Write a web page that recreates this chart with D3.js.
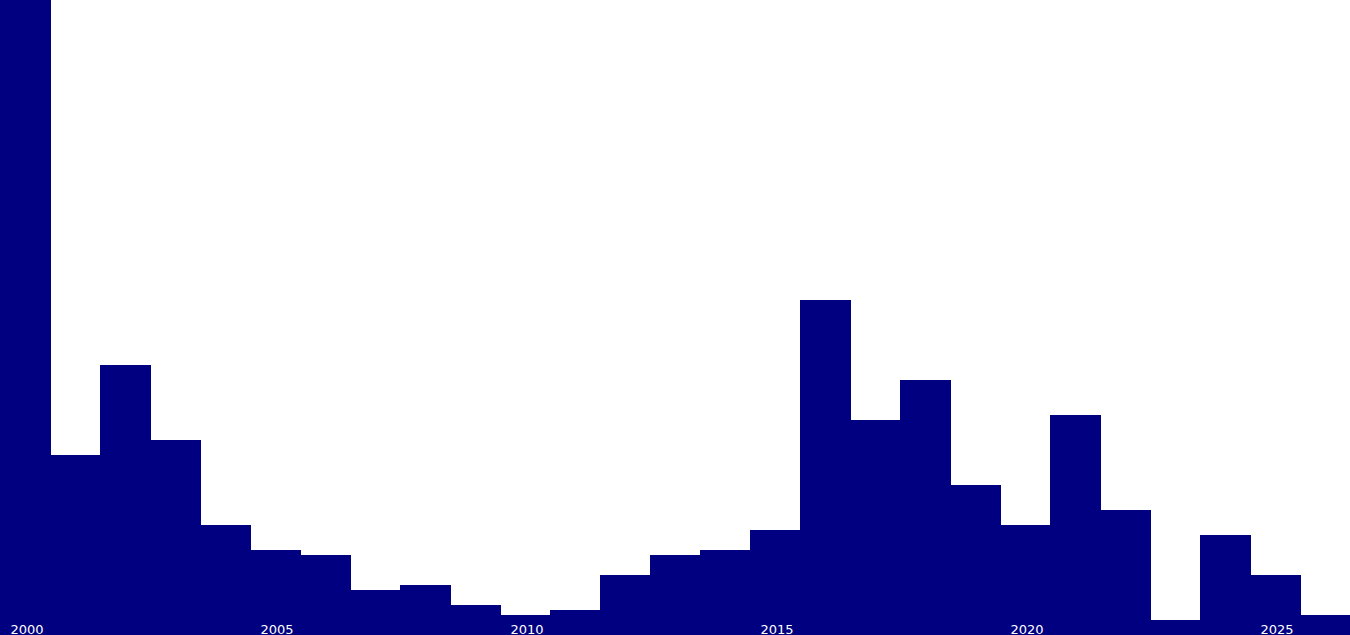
<!DOCTYPE html>
<html>
<head>
<meta charset="utf-8">
<script src="https://cdn.jsdelivr.net/npm/d3@7"></script>
<style>
  html, body { margin: 0; padding: 0; background: #fff; overflow: hidden; }
  svg { display: block; }
</style>
</head>
<body>
<div id="chart"></div>
<script>
var years = [2000, 2001, 2002, 2003, 2004, 2005, 2006, 2007, 2008, 2009,
             2010, 2011, 2012, 2013, 2014, 2015, 2016, 2017, 2018, 2019,
             2020, 2021, 2022, 2023, 2024, 2025, 2026];
var counts = [127, 36, 54, 39, 22, 17, 16, 9, 10, 6,
              4, 5, 12, 16, 17, 21, 67, 43, 51, 30,
              22, 44, 25, 3, 20, 12, 4];
var tickYears = [2000, 2005, 2010, 2015, 2020, 2025];

var svgWidth = 1350;
var svgHeight = 635;

var svg = d3.select("#chart")
    .append("svg")
    .attr("width", svgWidth)
    .attr("height", svgHeight);

var xScale = d3.scaleBand()
    .domain(years)
    .range([0, svgWidth])
    .padding(0);

var yScale = d3.scaleLinear()
    .domain([0, d3.max(counts)])
    .range([svgHeight, 0]);

// bars overlap their neighbour by one pixel, like the original
svg.selectAll(".bar")
    .data(years)
    .enter()
    .append("rect")
    .attr("class", "bar")
    .attr("x", function(d) { return xScale(d); })
    .attr("y", function(d, i) { return yScale(counts[i]); })
    .attr("width", xScale.bandwidth() + 1)
    .attr("height", function(d, i) { return svgHeight - yScale(counts[i]); })
    .attr("fill", "#000080")
    .attr("shape-rendering", "crispEdges");

// year labels sit inside the bars at the very bottom
var xAxis = d3.axisBottom(xScale)
    .tickValues(tickYears)
    .tickSize(0)
    .tickPadding(0);

var axisG = svg.append("g")
    .attr("transform", "translate(2, 624)")
    .call(xAxis);

axisG.select(".domain").remove();
axisG.selectAll("text")
    .attr("dy", "0.76em")
    .attr("fill", "#fff")
    .style("font-family", "'DejaVu Sans', Verdana, sans-serif")
    .style("font-size", "13px");
</script>
</body>
</html>
